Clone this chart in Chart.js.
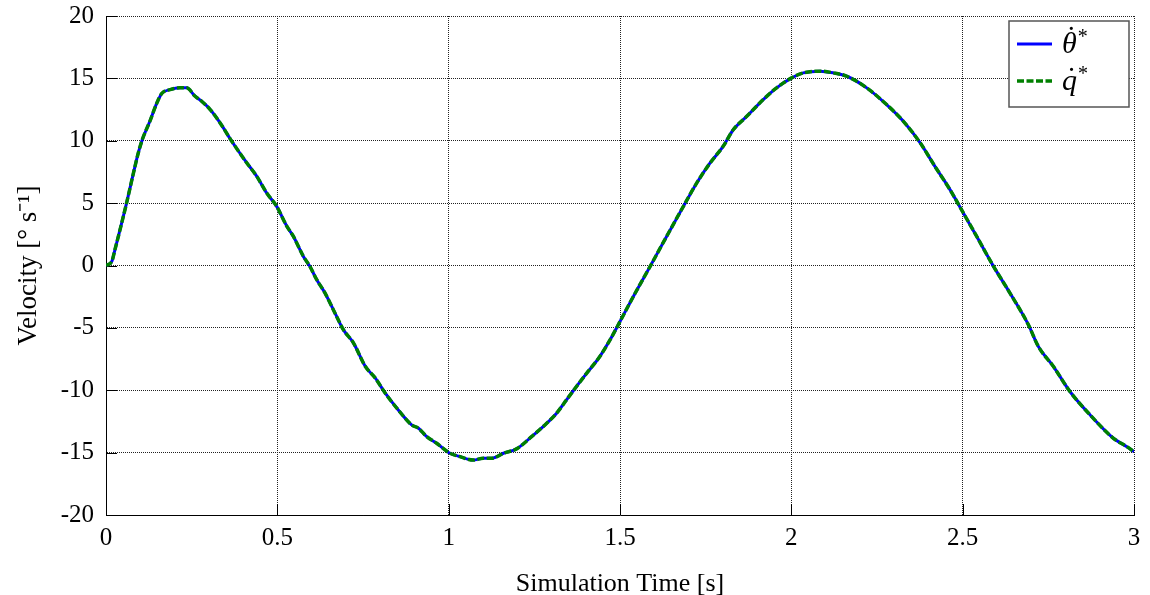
<!DOCTYPE html>
<html>
<head>
<meta charset="utf-8">
<script src="https://cdn.jsdelivr.net/npm/chart.js@4.4.1/dist/chart.umd.min.js"></script>
<style>
  body { margin: 0; background: #fff; }
  #wrap { width: 1150px; height: 595px; }
</style>
</head>
<body>
<div id="wrap"><canvas id="velocityChart" width="1150" height="595"></canvas></div>
<script>
// Values
const timeValues = [
    0, 0.017, 0.026, 0.041, 0.060, 0.080, 0.094, 0.106, 0.128, 0.148,
    0.163, 0.187, 0.216, 0.235, 0.260, 0.279, 0.304, 0.333, 0.367, 0.411,
    0.440, 0.469, 0.498, 0.528, 0.547, 0.576, 0.595, 0.615, 0.639, 0.668,
    0.693, 0.722, 0.757, 0.786, 0.815, 0.853, 0.892, 0.912, 0.936, 0.965,
    1.004, 1.033, 1.072, 1.101, 1.126, 1.160, 1.198, 1.242, 1.286, 1.315,
    1.344, 1.373, 1.403, 1.441, 1.471, 1.500, 1.539, 1.588, 1.636, 1.685,
    1.724, 1.763, 1.801, 1.831, 1.870, 1.918, 1.957, 2.001, 2.035, 2.084,
    2.123, 2.162, 2.220, 2.278, 2.327, 2.376, 2.419, 2.463, 2.502, 2.541,
    2.590, 2.638, 2.692, 2.721, 2.765, 2.813, 2.872, 2.940, 2.979, 3.0
];
const thetaDotValues = [
    0, 0.33, 1.26, 2.87, 5.0, 7.4, 9.0, 10.1, 11.56, 13.0,
    13.8, 14.1, 14.24, 14.24, 13.57, 13.17, 12.5, 11.43, 9.96, 8.22,
    7.15, 5.81, 4.74, 3.13, 2.33, 0.73, -0.07, -1.14, -2.2, -3.8,
    -5.16, -6.2, -8.1, -9.03, -10.24, -11.58, -12.78, -13.05, -13.72, -14.25,
    -15.05, -15.32, -15.6, -15.45, -15.45, -15.05, -14.7, -13.72, -12.65, -11.84,
    -10.77, -9.7, -8.63, -7.3, -5.96, -4.49, -2.48, -0.07, 2.33, 4.74,
    6.62, 8.22, 9.55, 10.9, 11.96, 13.3, 14.24, 15.04, 15.44, 15.58,
    15.44, 15.17, 14.24, 12.9, 11.56, 9.83, 7.95, 6.08, 4.21, 2.33,
    -0.07, -2.21, -4.76, -6.5, -8.1, -10.1, -11.98, -13.85, -14.52, -14.92
];
const qDotValues = [
    0, 0.33, 1.26, 2.87, 5.0, 7.4, 9.0, 10.1, 11.56, 13.0,
    13.8, 14.1, 14.24, 14.24, 13.57, 13.17, 12.5, 11.43, 9.96, 8.22,
    7.15, 5.81, 4.74, 3.13, 2.33, 0.73, -0.07, -1.14, -2.2, -3.8,
    -5.16, -6.2, -8.1, -9.03, -10.24, -11.58, -12.78, -13.05, -13.72, -14.25,
    -15.05, -15.32, -15.6, -15.45, -15.45, -15.05, -14.7, -13.72, -12.65, -11.84,
    -10.77, -9.7, -8.63, -7.3, -5.96, -4.49, -2.48, -0.07, 2.33, 4.74,
    6.62, 8.22, 9.55, 10.9, 11.96, 13.3, 14.24, 15.04, 15.44, 15.58,
    15.44, 15.17, 14.24, 12.9, 11.56, 9.83, 7.95, 6.08, 4.21, 2.33,
    -0.07, -2.21, -4.76, -6.5, -8.1, -10.1, -11.98, -13.85, -14.52, -14.92
];
const seriesLabels = ['\u03B8\u0307', 'q\u0307'];
const xTitle = 'Simulation Time [s]';
const yTitle = 'Velocity [\u00B0 s\u207B\u00B9]';

const serif = "'Liberation Serif', 'Times New Roman', serif";

function toPoints(values) {
    return timeValues.map((t, i) => ({ x: t, y: values[i] }));
}

// small tick marks pointing into the plot, like the original
const innerTicks = {
    id: 'innerTicks',
    beforeDatasetsDraw(chart) {
        const { ctx, chartArea, scales } = chart;
        ctx.save();
        ctx.strokeStyle = '#000';
        ctx.lineWidth = 1;
        scales.y.ticks.forEach(t => {
            const y = Math.round(scales.y.getPixelForValue(t.value)) + 0.5;
            ctx.beginPath();
            ctx.moveTo(chartArea.left, y);
            ctx.lineTo(chartArea.left + 11, y);
            ctx.stroke();
        });
        scales.x.ticks.forEach(t => {
            const x = Math.round(scales.x.getPixelForValue(t.value)) + 0.5;
            ctx.beginPath();
            ctx.moveTo(x, chartArea.bottom);
            ctx.lineTo(x, chartArea.bottom - 11);
            ctx.stroke();
        });
        ctx.restore();
    }
};

// legend box drawn inside the top right corner
const boxLegend = {
    id: 'boxLegend',
    afterDraw(chart) {
        const { ctx, chartArea } = chart;
        const right = chartArea.right - 5;
        const left = right - 120;
        const top = chartArea.top + 5;
        const h = 86;
        ctx.save();
        ctx.fillStyle = '#fff';
        ctx.fillRect(left, top, right - left, h);
        ctx.strokeStyle = '#555';
        ctx.lineWidth = 1.5;
        ctx.strokeRect(left, top, right - left, h);

        chart.data.datasets.forEach((ds, i) => {
            const y = top + 23 + i * 37;
            ctx.beginPath();
            ctx.strokeStyle = ds.borderColor;
            ctx.lineWidth = ds.borderWidth;
            ctx.setLineDash(ds.borderDash || []);
            ctx.moveTo(left + 8, y);
            ctx.lineTo(left + 43, y);
            ctx.stroke();
            ctx.setLineDash([]);

            // base letter, then a dot above it and a raised star
            const base = ds.label.replace('\u0307', '');
            const tx = left + 53;
            ctx.fillStyle = '#000';
            ctx.textBaseline = 'alphabetic';
            ctx.font = 'italic 30px ' + serif;
            ctx.fillText(base, tx, y + 9);
            const w = ctx.measureText(base).width;
            if (ds.label.includes('\u0307')) {
                ctx.font = '30px ' + serif;
                ctx.textAlign = 'center';
                const dotY = base === 'q' ? y + 7 : y + 3;
                ctx.fillText('\u02D9', tx + w / 2 + 2, dotY);
                ctx.textAlign = 'left';
            }
            ctx.font = '20px ' + serif;
            ctx.fillText('*', tx + w + 1, y - 1);
        });
        ctx.restore();
    }
};

const ctx = document.getElementById('velocityChart').getContext('2d');

new Chart(ctx, {
    type: 'line',
    data: {
        datasets: [
            {
                label: seriesLabels[0],
                data: toPoints(thetaDotValues),
                borderColor: '#0000ff',
                borderWidth: 3,
                pointRadius: 0,
                cubicInterpolationMode: 'monotone',
                order: 2
            },
            {
                label: seriesLabels[1],
                data: toPoints(qDotValues),
                borderColor: '#008000',
                borderWidth: 3.5,
                borderDash: [7, 2.5],
                pointRadius: 0,
                cubicInterpolationMode: 'monotone',
                order: 1
            }
        ]
    },
    options: {
        responsive: false,
        animation: false,
        layout: { padding: { top: 16, right: 16, left: 0, bottom: 0 } },
        plugins: {
            legend: { display: false },
            tooltip: { enabled: false }
        },
        scales: {
            x: {
                type: 'linear',
                min: 0,
                max: 3,
                grid: { color: '#222', drawTicks: false },
                border: { display: true, color: '#000', dash: [1, 1] },
                ticks: {
                    stepSize: 0.5,
                    padding: 8,
                    color: '#000',
                    font: { family: serif, size: 25 },
                    callback: value => String(value)
                },
                title: {
                    display: true,
                    text: xTitle,
                    color: '#000',
                    font: { family: serif, size: 26 },
                    padding: { top: 0, bottom: -5 }
                },
                afterFit: scale => {
                    scale.height = 80;
                    scale.paddingLeft = 0;
                    scale.paddingRight = 0;
                }
            },
            y: {
                min: -20,
                max: 20,
                grid: { color: '#222', drawTicks: false },
                border: { display: true, color: '#000', dash: [1, 1] },
                ticks: {
                    stepSize: 5,
                    padding: 12,
                    color: '#000',
                    font: { family: serif, size: 25 },
                    callback: value => String(value)
                },
                title: {
                    display: true,
                    text: yTitle,
                    color: '#000',
                    font: { family: serif, size: 27 },
                    padding: { top: 13, bottom: 0 }
                },
                afterFit: scale => {
                    scale.width = 106;
                    scale.paddingTop = 0;
                    scale.paddingBottom = 0;
                }
            }
        }
    },
    plugins: [innerTicks, boxLegend]
});
</script>
</body>
</html>
